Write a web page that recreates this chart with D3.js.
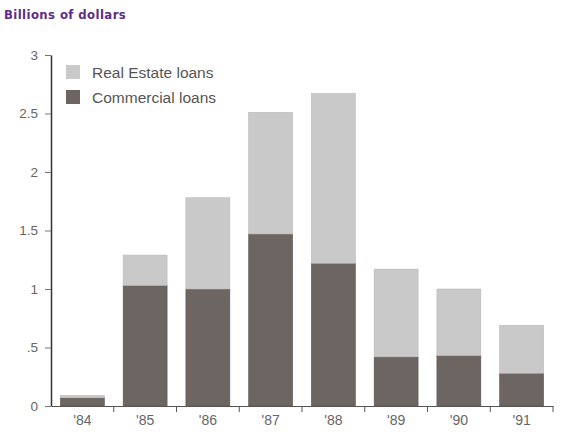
<!DOCTYPE html>
<html>
<head>
<meta charset="utf-8">
<script src="https://cdn.jsdelivr.net/npm/d3@7"></script>
<style>
  body { margin: 0; background: #fff; }
  svg text { font-family: "Liberation Sans", Arial, sans-serif; }
</style>
</head>
<body>
<svg id="chart" width="562" height="432"></svg>
<script>
// values, billions of dollars
const years = ["'84", "'85", "'86", "'87", "'88", "'89", "'90", "'91"];
const commercial = [0.07, 1.03, 1.0, 1.47, 1.22, 0.42, 0.43, 0.28];
const realEstate = [0.02, 0.26, 0.78, 1.04, 1.45, 0.75, 0.57, 0.41];
const yTicks = [0, 0.5, 1, 1.5, 2, 2.5, 3];
const yTickLabels = ["0", ".5", "1", "1.5", "2", "2.5", "3"];
const seriesNames = ["Real Estate loans", "Commercial loans"];

const colors = { realEstate: "#c9c9c9", commercial: "#6d6562" };

const svg = d3.select("#chart");
const plotLeft = 51, plotRight = 553, plotTop = 55, plotBottom = 406;

const x = d3.scaleBand()
    .domain(years)
    .range([plotLeft, plotRight])
    .paddingInner(0.3)
    .paddingOuter(0.15);

const y = d3.scaleLinear()
    .domain([0, 3])
    .range([plotBottom, plotTop]);

// title
svg.append("text")
    .attr("x", 4)
    .attr("y", 19)
    .attr("fill", "#5e2d8a")
    .style("font-family", "'DejaVu Sans Condensed', 'Liberation Sans Narrow', sans-serif")
    .style("font-weight", "bold")
    .style("font-size", "13px")
    .style("letter-spacing", "0.4px")
    .text("Billions of dollars");

// stacked bars
const rows = years.map((yr, i) => ({ year: yr, commercial: commercial[i], realEstate: realEstate[i] }));
const stack = d3.stack().keys(["commercial", "realEstate"]);
const layers = stack(rows);

svg.append("g")
    .selectAll("g")
    .data(layers)
    .join("g")
    .attr("fill", d => colors[d.key])
    .attr("stroke", d => d.key === "commercial" ? "#5a5350" : "#b8b8b8")
    .attr("stroke-width", 0.6)
    .selectAll("rect")
    .data(d => d)
    .join("rect")
    .attr("x", d => x(d.data.year))
    .attr("y", d => y(d[1]))
    .attr("width", x.bandwidth())
    .attr("height", d => y(d[0]) - y(d[1]));

// y axis
const yAxis = svg.append("g")
    .attr("transform", `translate(${plotLeft},0)`)
    .call(d3.axisLeft(y).tickValues(yTicks)
        .tickFormat((d, i) => yTickLabels[i])
        .tickSize(6).tickSizeOuter(0).tickPadding(7));
yAxis.select(".domain").attr("stroke", "#333").attr("stroke-width", 1.5);
yAxis.selectAll(".tick line").attr("stroke", "#777");
yAxis.selectAll(".tick text").attr("fill", "#666").style("font-size", "13.5px");

// x axis
const xAxis = svg.append("g")
    .attr("transform", `translate(0,${plotBottom})`)
    .call(d3.axisBottom(x).tickSize(0).tickPadding(9));
xAxis.select(".domain").attr("stroke", "#555").attr("stroke-width", 1);
xAxis.selectAll(".tick text").attr("fill", "#666").style("font-size", "14px");

// ticks between the years
const gap = x.step() * x.paddingInner() / 2;
xAxis.selectAll(".sep")
    .data(years)
    .join("line")
    .attr("class", "sep")
    .attr("x1", d => x(d) + x.bandwidth() + gap)
    .attr("x2", d => x(d) + x.bandwidth() + gap)
    .attr("y1", 0)
    .attr("y2", 6)
    .attr("stroke", "#555");

// legend
const legend = svg.append("g").attr("transform", "translate(66,65)");
const legendColors = [colors.realEstate, colors.commercial];
seriesNames.forEach((name, i) => {
    const g = legend.append("g").attr("transform", `translate(0,${i * 25})`);
    g.append("rect")
        .attr("width", 14).attr("height", 14)
        .attr("fill", legendColors[i]);
    g.append("text")
        .attr("x", 26).attr("y", 13)
        .attr("fill", "#555")
        .style("font-size", "15.5px")
        .text(name);
});
</script>
</body>
</html>
